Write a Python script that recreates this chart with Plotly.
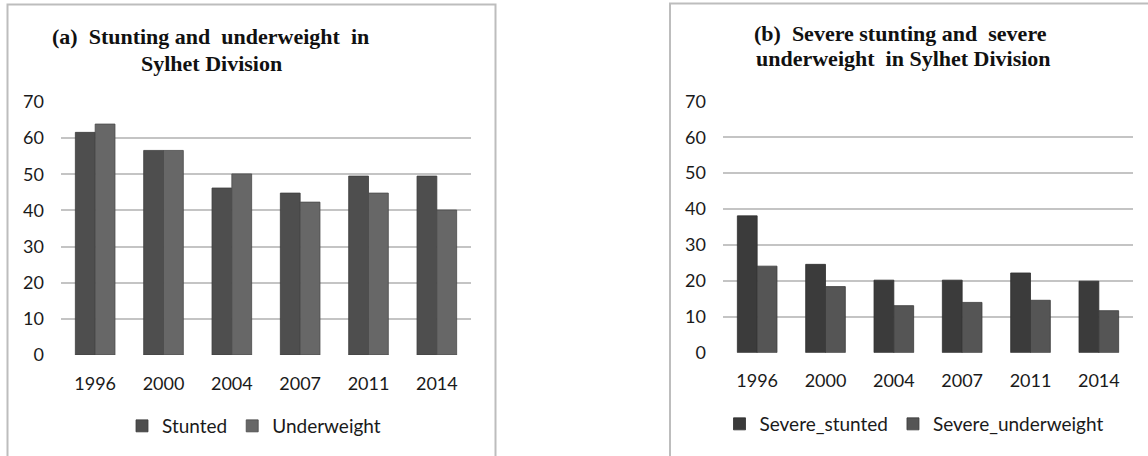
import plotly.graph_objects as go

# Survey years and prevalence (%) for Sylhet Division
years = ["1996", "2000", "2004", "2007", "2011", "2014"]
stunted = [61.6, 56.6, 46.2, 44.8, 49.5, 49.5]
underweight = [63.9, 56.6, 50.1, 42.3, 44.8, 40.1]
severe_stunted = [38.1, 24.6, 20.2, 20.2, 22.2, 19.9]
severe_underweight = [24.1, 18.4, 13.1, 14.0, 14.6, 11.7]
y_ticks = [0, 10, 20, 30, 40, 50, 60, 70]

W, H = 1148, 456


def px(x):
    return x / W


def py(y):
    return 1 - y / H


tick_font = dict(family="Lato, 'Open Sans', sans-serif", size=18, color="#1a1a1a")
legend_font = dict(family="Lato, 'Open Sans', sans-serif", size=19, color="#1a1a1a")
title_font = dict(family="'Liberation Serif', 'Times New Roman', serif", size=22, color="#111111")
grid_color = "#c4c4c4"

fig = go.Figure()

fig.add_trace(go.Bar(x=years, y=stunted, name="Stunted",
                     marker=dict(color="#4e4e4e", line=dict(color="#3e3e3e", width=0.8)),
                     xaxis="x", yaxis="y", legend="legend"))
fig.add_trace(go.Bar(x=years, y=underweight, name="Underweight",
                     marker=dict(color="#676767", line=dict(color="#4a4a4a", width=0.8)),
                     xaxis="x", yaxis="y", legend="legend"))
fig.add_trace(go.Bar(x=years, y=severe_stunted, name="Severe_stunted",
                     marker=dict(color="#3b3b3b", line=dict(color="#2e2e2e", width=0.8)),
                     xaxis="x2", yaxis="y2", legend="legend2"))
fig.add_trace(go.Bar(x=years, y=severe_underweight, name="Severe_underweight",
                     marker=dict(color="#555555", line=dict(color="#3a3a3a", width=0.8)),
                     xaxis="x2", yaxis="y2", legend="legend2"))

x_common = dict(type="category", showgrid=False, showline=False, zeroline=False,
                tickfont=tick_font, ticks="outside", ticklen=12, tickcolor="rgba(0,0,0,0)",
                automargin=False, fixedrange=True)
y_common = dict(range=[0, 70], tickvals=y_ticks, showgrid=True, gridcolor=grid_color,
                gridwidth=1.5, zeroline=False, showline=False, tickfont=tick_font,
                ticklabelstandoff=16, automargin=False, fixedrange=True)

legend_common = dict(orientation="h", font=legend_font,
                     bgcolor="rgba(0,0,0,0)", xanchor="center", yanchor="middle",
                     itemwidth=30, traceorder="normal", tracegroupgap=0)

fig.update_layout(
    width=W, height=H, autosize=False,
    margin=dict(l=0, r=0, t=0, b=0, pad=0, autoexpand=False),
    paper_bgcolor="white", plot_bgcolor="white",
    barmode="group", bargap=0.42, bargroupgap=0,
    xaxis=dict(domain=[px(61), px(471)], anchor="y", **x_common),
    yaxis=dict(domain=[py(355), py(102)], anchor="x", **y_common),
    xaxis2=dict(domain=[px(723), px(1133)], anchor="y2", **x_common),
    yaxis2=dict(domain=[py(352.7), py(101.3)], anchor="x2", **y_common),
    legend=dict(x=px(254), y=py(426), **legend_common),
    legend2=dict(x=px(914), y=py(424), **legend_common),
    showlegend=True,
    shapes=[
        dict(type="rect", xref="paper", yref="paper",
             x0=px(7.5), x1=px(495.5), y0=-0.05, y1=py(4.5),
             line=dict(color="#bdbdbd", width=2), fillcolor="rgba(0,0,0,0)", layer="below"),
        dict(type="rect", xref="paper", yref="paper",
             x0=px(670), x1=1.05, y0=-0.05, y1=py(3.5),
             line=dict(color="#bdbdbd", width=2), fillcolor="rgba(0,0,0,0)", layer="below"),
    ],
    annotations=[
        dict(text="<b>(a)  Stunting and  underweight  in</b>", x=px(210), y=py(37),
             xref="paper", yref="paper", showarrow=False, font=title_font,
             xanchor="center", yanchor="middle"),
        dict(text="<b>Sylhet Division</b>", x=px(211), y=py(63),
             xref="paper", yref="paper", showarrow=False, font=title_font,
             xanchor="center", yanchor="middle"),
        dict(text="<b>(b)  Severe stunting and  severe</b>", x=px(900), y=py(33),
             xref="paper", yref="paper", showarrow=False, font=title_font,
             xanchor="center", yanchor="middle"),
        dict(text="<b>underweight  in Sylhet Division</b>", x=px(903), y=py(58),
             xref="paper", yref="paper", showarrow=False, font=title_font,
             xanchor="center", yanchor="middle"),
    ],
)

fig.write_html("out.html")
